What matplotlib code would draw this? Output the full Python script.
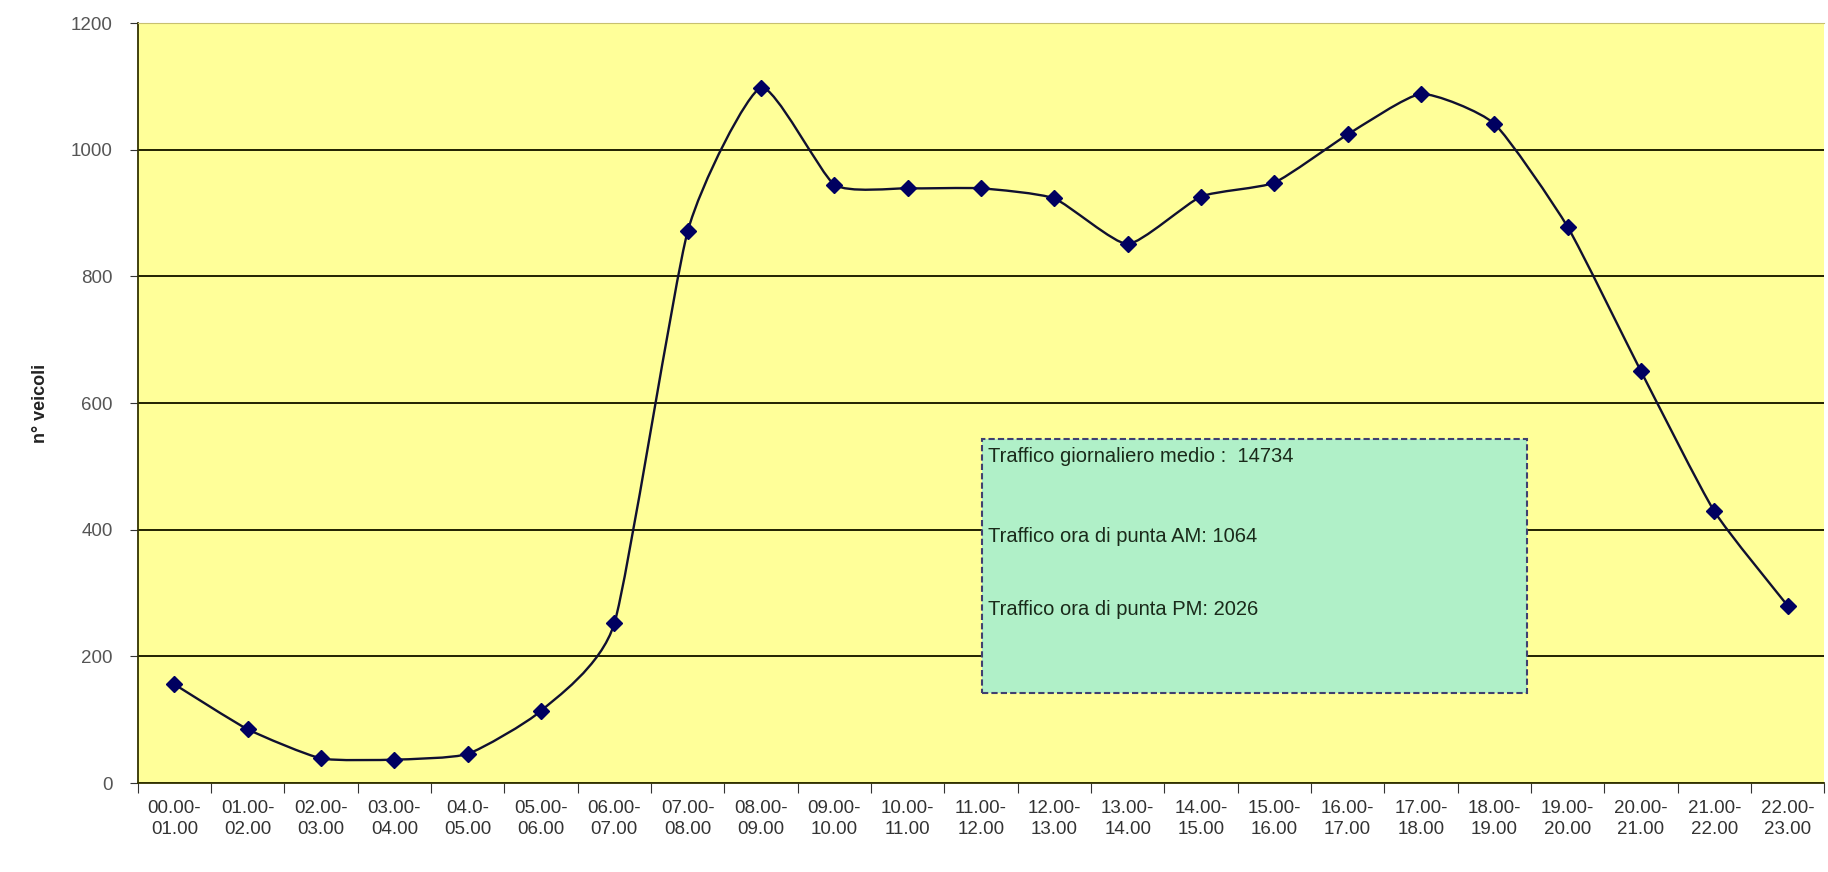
import numpy as np
import matplotlib
matplotlib.use("Agg")
import matplotlib.pyplot as plt
from matplotlib.path import Path
from matplotlib.patches import PathPatch, Rectangle

# fasce orarie
fasce = ['00.00-\n01.00', '01.00-\n02.00', '02.00-\n03.00', '03.00-\n04.00', '04.0-\n05.00',
         '05.00-\n06.00', '06.00-\n07.00', '07.00-\n08.00', '08.00-\n09.00', '09.00-\n10.00',
         '10.00-\n11.00', '11.00-\n12.00', '12.00-\n13.00', '13.00-\n14.00', '14.00-\n15.00',
         '15.00-\n16.00', '16.00-\n17.00', '17.00-\n18.00', '18.00-\n19.00', '19.00-\n20.00',
         '20.00-\n21.00', '21.00-\n22.00', '22.00-\n23.00']
veicoli = [156, 85, 39, 37, 46, 114, 252, 871, 1098, 945, 939, 939, 923, 851,
           926, 948, 1024, 1088, 1041, 878, 650, 429, 280]
y_ticks = [0, 200, 400, 600, 800, 1000, 1200]
testo_box = ['Traffico giornaliero medio :  14734',
             'Traffico ora di punta AM: 1064',
             'Traffico ora di punta PM: 2026']

plt.rcParams['font.family'] = ['Liberation Sans', 'DejaVu Sans']

fig = plt.figure(figsize=(18.28, 8.72), dpi=100)
ax = fig.add_axes([0.0753, 0.102, 0.9227, 0.8716])
ax.set_facecolor('#ffff99')

x = np.arange(len(veicoli))
y = np.array(veicoli, dtype=float)

# linea leggermente smussata (stile Excel)
verts = [(x[0], y[0])]
codes = [Path.MOVETO]
t = 0.09
for i in range(len(x) - 1):
    p0 = (x[i - 1], y[i - 1]) if i > 0 else (x[i], y[i])
    p1 = (x[i], y[i])
    p2 = (x[i + 1], y[i + 1])
    p3 = (x[i + 2], y[i + 2]) if i + 2 < len(x) else p2
    c1 = (p1[0] + (p2[0] - p0[0]) * t, p1[1] + (p2[1] - p0[1]) * t)
    c2 = (p2[0] - (p3[0] - p1[0]) * t, p2[1] - (p3[1] - p1[1]) * t)
    verts += [c1, c2, p2]
    codes += [Path.CURVE4] * 3
ax.add_patch(PathPatch(Path(verts, codes), facecolor='none', edgecolor='#101030', lw=1.7, zorder=3))
ax.plot(x, y, ls='none', marker='D', ms=8.5, color='#000060', zorder=4)

ax.set_xlim(-0.5, len(veicoli) - 0.5)
ax.set_ylim(0, 1200)
ax.set_yticks(y_ticks)
ax.set_yticklabels([str(v) for v in y_ticks], fontsize=13.5, color='#555555')
ax.yaxis.grid(True, color='#202000', lw=1.4)
ax.set_axisbelow(True)

ax.set_xticks(np.arange(-0.5, len(veicoli), 1.0))
ax.set_xticklabels([])
ax.set_xticks(x, minor=True)
ax.set_xticklabels(fasce, minor=True, fontsize=13.5, color='#333333', linespacing=1.3)
ax.tick_params(axis='x', which='minor', length=0, pad=12)
ax.tick_params(axis='x', which='major', length=7, color='#333333')
ax.tick_params(axis='y', length=6, color='#333333', pad=12)

ax.set_ylabel('n° veicoli', fontsize=13, fontweight='bold', color='#222222', labelpad=16)

for s in ['left', 'bottom']:
    ax.spines[s].set_color('#333300')
    ax.spines[s].set_linewidth(1.3)
ax.spines['top'].set_color('#c8c070')
ax.spines['right'].set_visible(False)

# riquadro di testo
bx0, bx1 = 11.02, 18.44
by0, by1 = 142, 543
ax.add_patch(Rectangle((bx0, by0), bx1 - bx0, by1 - by0, facecolor='#b0f0c8',
                       edgecolor='#404070', lw=1.5, ls=(0, (3, 1.5)), zorder=5))
for t_line, ty in zip(testo_box, [516, 390, 274]):
    ax.text(bx0 + 0.08, ty, t_line, fontsize=14.5, color='#1a2a1a', va='center', ha='left', zorder=6)

fig.savefig('out.png', dpi=100, facecolor='white')
